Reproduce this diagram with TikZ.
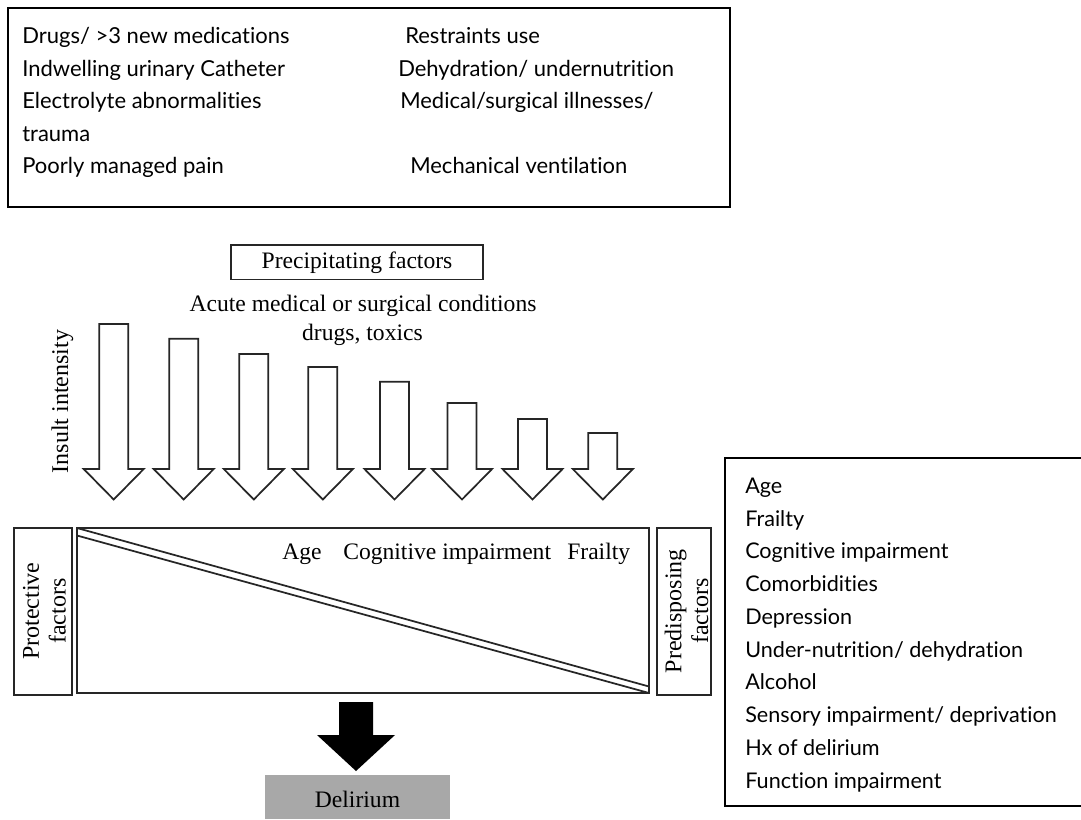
\documentclass[tikz,border=0pt]{standalone}
\usepackage{fontspec}
\setmainfont{Liberation Serif}
\newfontfamily\sansf[Ligatures={NoCommon}]{Lato}
\begin{document}
\begin{tikzpicture}[x=0.75pt,y=-0.75pt,
  frame/.style={draw=black,line width=1.5pt},
  fig/.style={draw=black!85,line width=1.3pt},
  toptxt/.style={anchor=base west,inner sep=0pt,font=\sansf\fontsize{16.5}{19}\selectfont},
  listtxt/.style={anchor=base west,inner sep=0pt,font=\sansf\fontsize{16.2}{19}\selectfont},
  sertxt/.style={inner sep=0pt,font=\fontsize{17.7}{21}\selectfont},
  vtxt/.style={inner sep=0pt,rotate=90,align=center,font=\fontsize{18}{20}\selectfont}]
\useasboundingbox (0,0) rectangle (1081,819);
\fill[white] (0,0) rectangle (1081,819);
% top box
\draw[frame] (8,8) rectangle (730,207);
\node[toptxt] (t1) at (22,43.5) {Drugs/ >3 new medications};
\node[toptxt] (t2) at (22,76) {Indwelling urinary Catheter};
\node[toptxt] (t3) at (22,108.5) {Electrolyte abnormalities};
\node[toptxt] (t4) at (22,141) {trauma};
\node[toptxt] (t5) at (22,173.5) {Poorly managed pain};
\node[toptxt] (r1) at (405,43.5) {Restraints use};
\node[toptxt] (r2) at (398,76) {Dehydration/ undernutrition};
\node[toptxt] (r3) at (400,108.5) {Medical/surgical illnesses/};
\node[toptxt] (r4) at (410,173.5) {Mechanical ventilation};
% right box
\draw[frame] (1085,458) -- (725,458) -- (725,805.5) -- (1085,805.5);
\foreach \t [count=\i from 0] in {Age,Frailty,Cognitive impairment,Comorbidities,Depression,Under-nutrition/ dehydration,Alcohol,Sensory impairment/ deprivation,Hx of delirium,Function impairment}
  \node[listtxt] (p\i) at (745,{493.3+32.75*\i}) {\t};
% precipitating
\draw[fig] (231,245) rectangle (483,279.5);
\node[sertxt,anchor=base] (prec) at (357,268.5) {Precipitating factors};
\node[sertxt,anchor=base] (acute) at (363,311.5) {Acute medical or surgical conditions};
\node[sertxt,anchor=base] (drugs) at (362.5,340) {drugs, toxics};
\node[vtxt,anchor=base] (insult) at (68,401.5) {Insult intensity};
% hollow arrows
\foreach \cx/\ty in {113.7/324,183.7/338.7,253.8/354,322.8/367,394.5/381.7,462/403,532.5/419,602.8/433}
  \draw[fig,line join=miter] (\cx-14.5,\ty) -- (\cx+14.5,\ty) -- (\cx+14.5,469) -- (\cx+30,469) -- (\cx,499.5) -- (\cx-30,469) -- (\cx-14.5,469) -- cycle;
% main box
\draw[fig] (77,528) rectangle (649,693);
\draw[fig] (77,528) -- (649,686.5);
\draw[fig] (77,535.5) -- (649,693);
\node[sertxt,anchor=base west] (age) at (282,559) {Age};
\node[sertxt,anchor=base west] (cog) at (343,559) {Cognitive impairment};
\node[sertxt,anchor=base west] (frail) at (567,559) {Frailty};
\draw[fig] (14,528) rectangle (72,695);
\node[vtxt] (prot) at (44.5,611) {Protective\\factors};
\draw[fig] (657,528) rectangle (711,695);
\node[vtxt] (pred) at (686.5,611) {Predisposing\\factors};
% delirium
\fill[black!34] (264.5,774.5) rectangle (450,819);
\node[sertxt,anchor=base] (del) at (357.5,807) {Delirium};
\fill[black] (339,702) -- (373,702) -- (373,735) -- (395,735) -- (356,771) -- (317,735) -- (339,735) -- cycle;
\end{tikzpicture}
\end{document}
